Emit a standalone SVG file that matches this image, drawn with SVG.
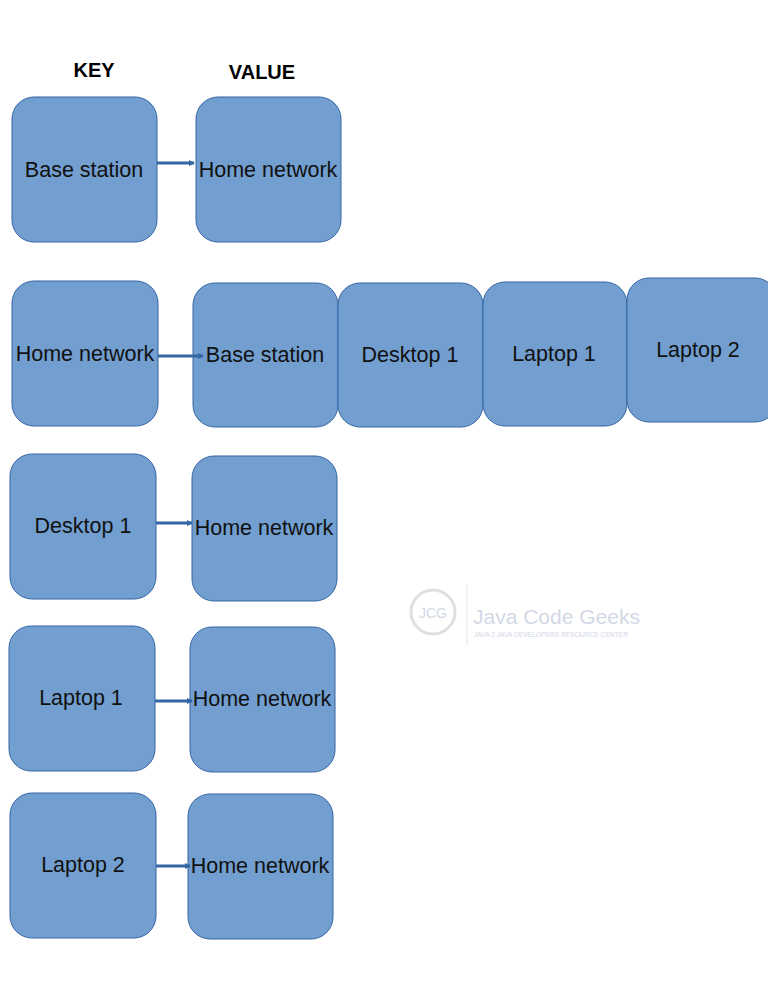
<svg xmlns="http://www.w3.org/2000/svg" width="768" height="994" viewBox="0 0 768 994">
<style>
.b{fill:#729fcf;stroke:#3465a4;stroke-width:1}
.t{font-family:"Liberation Sans",Arial,sans-serif;font-size:21.5px;fill:#111;text-anchor:middle}
.h{font-family:"Liberation Sans",Arial,sans-serif;font-size:20px;font-weight:bold;fill:#000;text-anchor:middle}
.c{stroke:#3465a4;stroke-width:3;fill:none;marker-end:url(#a)}
.w{font-family:"Liberation Sans",Arial,sans-serif;fill:#c8cfe0}
</style>
<defs><marker id="a" markerWidth="6" markerHeight="6" refX="5" refY="3" orient="auto" markerUnits="userSpaceOnUse"><path d="M0,0L6,3L0,6z" fill="#3465a4"/></marker></defs>
<rect width="768" height="994" fill="#fff"/>
<text class="h" x="94" y="77">KEY</text>
<text class="h" x="262" y="79">VALUE</text>
<g id="watermark" opacity="0.8">
<circle cx="433" cy="612" r="22" fill="none" stroke="#d8d8d8" stroke-width="3"/>
<text class="w" x="433" y="618" font-size="14" text-anchor="middle" fill="#bbb">JCG</text>
<line x1="467" y1="585" x2="467" y2="645" stroke="#e0e0e0"/>
<text class="w" x="473" y="624" font-size="21" fill="#c0c8de">Java Code Geeks</text>
<text class="w" x="474" y="637" font-size="7" textLength="154" lengthAdjust="spacingAndGlyphs">JAVA 2 JAVA DEVELOPERS RESOURCE CENTER</text>
</g>
<g id="k1"><rect class="b" x="12" y="97" width="145" height="145" rx="22"/><text class="t" x="84" y="177">Base station</text></g>
<g id="v1"><rect class="b" x="196" y="97" width="145" height="145" rx="22"/><text class="t" x="268" y="177">Home network</text></g>
<g id="k2"><rect class="b" x="12" y="281" width="146" height="145" rx="22"/><text class="t" x="85" y="361">Home network</text></g>
<g id="v2a"><rect class="b" x="193" y="283" width="145" height="144" rx="22"/><text class="t" x="265" y="362">Base station</text></g>
<g id="v2b"><rect class="b" x="338" y="283" width="145" height="144" rx="22"/><text class="t" x="410" y="362">Desktop 1</text></g>
<g id="v2c"><rect class="b" x="483" y="282" width="144" height="144" rx="22"/><text class="t" x="554" y="361">Laptop 1</text></g>
<g id="v2d"><rect class="b" x="627" y="278" width="150" height="144" rx="22"/><text class="t" x="698" y="357">Laptop 2</text></g>
<g id="k3"><rect class="b" x="10" y="454" width="146" height="145" rx="22"/><text class="t" x="83" y="533">Desktop 1</text></g>
<g id="v3"><rect class="b" x="192" y="456" width="145" height="145" rx="22"/><text class="t" x="264" y="535">Home network</text></g>
<g id="k4"><rect class="b" x="9" y="626" width="146" height="145" rx="22"/><text class="t" x="81" y="705">Laptop 1</text></g>
<g id="v4"><rect class="b" x="190" y="627" width="145" height="145" rx="22"/><text class="t" x="262" y="706">Home network</text></g>
<g id="k5"><rect class="b" x="10" y="793" width="146" height="145" rx="22"/><text class="t" x="83" y="872">Laptop 2</text></g>
<g id="v5"><rect class="b" x="188" y="794" width="145" height="145" rx="22"/><text class="t" x="260" y="873">Home network</text></g>
<g id="connectors">
<line class="c" x1="157" y1="163" x2="194" y2="163"/>
<line class="c" x1="158" y1="356" x2="203" y2="356"/>
<line class="c" x1="156" y1="523" x2="192" y2="523"/>
<line class="c" x1="155" y1="701" x2="192" y2="701"/>
<line class="c" x1="156" y1="866" x2="190" y2="866"/>
</g>
</svg>
